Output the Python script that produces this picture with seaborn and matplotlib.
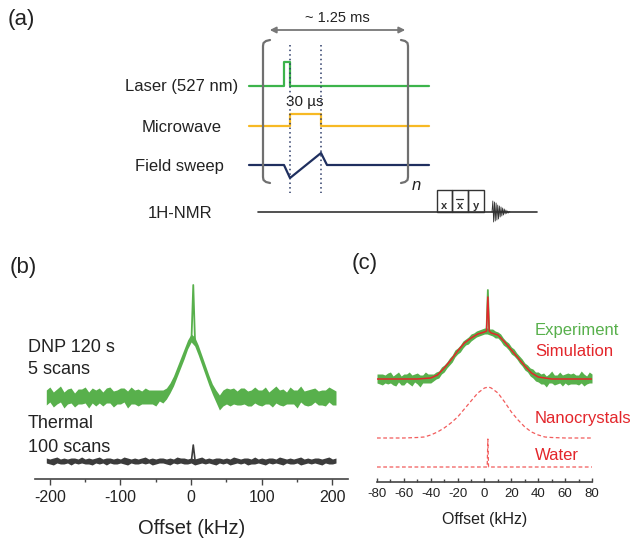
import numpy as np
import pandas as pd
import matplotlib
matplotlib.use("Agg")
import matplotlib.pyplot as plt
from matplotlib.patches import Rectangle
import seaborn as sns

# ---------------- data ----------------
# (a) pulse sequence schematic, pixel coordinates of the drawing
laser_x = [249, 284, 284, 290, 290, 429]
laser_y = [86, 86, 62, 62, 86, 86]
mw_x = [249, 290, 290, 321, 321, 429]
mw_y = [126, 126, 114, 114, 126, 126]
sweep_x = [249, 284, 290, 321, 327, 429]
sweep_y = [165, 165, 178, 153, 165, 165]
nmr_x = [258, 537]
nmr_y = [212, 212]
box_edges = [437, 452, 468, 484]
box_labels = ["x", "x", "y"]
fid_amp = [0, 11, -10, 10, -9, 9, -8, 7, -7, 6, -5, 5, -4, 4, -3, 3,
           -2, 2, -1.5, 1, -1, 0.5, 0]

# (b) 1H spectra, offset in kHz
b_x = np.arange(-205, 206, 5)
b_dnp = ([0, 1, -1, 0, 1, -1, 1, 0, -1, 0, 1, 0, -1, 1, 0, 0, -1, 1, 0, -1, 1, 0, 1, -1, 0, 1, 0, -1, 0, 1, -1, 0, 1]
         + [0, 3, 9, 16, 25, 34, 43, 52, 59, 55, 47, 37, 27, 17, 8, 1, -4, -1]
         + [0, 1, -1, 0, 1, 0, -1, 1, 0, -1, 0, 1, -1, 0, 1, 0, 0, -1, 1, 0, -1, 1, 0, 0, -1, 1, 0, -1, 0, 1, 0, -1])
b_dnp_hi = ([7, 9, 6, 8, 10, 6, 7, 9, 5, 8, 7, 10, 6, 8, 7, 9, 6, 8, 10, 7, 6, 9, 8, 7, 10, 6, 8, 7, 9, 6, 8, 7, 6]
            + [7, 6, 5, 5, 5, 5, 5, 5, 4, 5, 5, 5, 5, 5, 5, 6, 6, 8]
            + [9, 7, 10, 6, 8, 9, 7, 6, 10, 8, 7, 9, 6, 8, 10, 7, 8, 6, 9, 7, 8, 10, 6, 7, 9, 8, 6, 8, 7, 9, 8, 7])
b_dnp_lo = ([8, 6, 9, 7, 6, 10, 8, 6, 9, 7, 8, 6, 10, 7, 9, 6, 8, 7, 6, 9, 8, 7, 6, 10, 7, 8, 9, 6, 7, 8, 6, 9, 5]
            + [6, 5, 5, 5, 5, 5, 5, 4, 4, 4, 5, 5, 5, 5, 5, 6, 9, 8]
            + [7, 10, 6, 8, 9, 7, 8, 10, 6, 7, 9, 8, 6, 10, 7, 8, 9, 6, 8, 7, 10, 6, 8, 9, 7, 6, 8, 7, 9, 6, 8, 7])
b_dnp_spike_x = [0.5, 3, 5.5]
b_dnp_spike_y = [58, 112, 55]
b_th_hi = ([3, 2, 3, 4, 2, 3, 2, 3, 3, 2, 4, 2, 3, 2, 3, 4, 2, 3, 3, 2, 3, 2, 4, 3, 2, 3, 2, 3, 4, 2, 3, 2, 3]
           + [3, 2, 3, 2, 4, 3, 3, 2, 3, 2, 3, 4, 2, 3, 2, 3, 3, 2]
           + [3, 2, 4, 3, 2, 3, 3, 2, 4, 2, 3, 2, 3, 3, 2, 4, 3, 2, 3, 2, 3, 4, 2, 3, 2, 3, 3, 2, 3, 4, 2, 3])
b_th_lo = ([2, 3, 4, 2, 3, 3, 2, 4, 2, 3, 2, 3, 3, 4, 2, 3, 2, 4, 2, 3, 3, 2, 3, 4, 2, 3, 3, 2, 3, 2, 4, 3, 2]
           + [2, 3, 4, 2, 3, 2, 3, 3, 2, 4, 3, 2, 3, 2, 3, 4, 2, 3]
           + [2, 4, 3, 2, 3, 2, 4, 3, 3, 2, 3, 4, 2, 3, 2, 3, 4, 2, 3, 3, 2, 4, 3, 2, 3, 2, 3, 4, 2, 3, 3, 2])
b_th_spike_x = [0.5, 3, 5.5]
b_th_spike_y = [1, 16, 1]
b_dnp_offset = 82
b_th_offset = 18

# (c) fit of the DNP spectrum
c_x = np.arange(-80, 81, 2)
c_exp = ([0, 1, -1, 0, 1, 0, -1, 0, 1, -1, 0, 1, 0, -1, 1, 0, -1, 0, 1, 0]
         + [1, 2, 3, 5, 8, 11, 14, 17, 21, 25, 28, 31, 34, 37, 39, 41, 43, 45, 46, 47, 48,
            48, 47, 46, 45, 44, 41, 38, 35, 32, 29, 26, 23, 20, 16, 13, 10, 7, 5, 3, 2, 1]
         + [0, -1, 0, 1, 0, -1, 1, 0, 0, -1, 1, 0, -1, 0, 1, 0, -1, 1, 0])
c_exp_hi = ([5, 4, 6, 4, 5, 7, 4, 5, 6, 4, 5, 4, 7, 5, 4, 6, 5, 4, 6, 5]
            + [4, 3, 4, 3, 4, 3, 3, 4, 3, 4, 3, 3, 4, 3, 3, 4, 3, 3, 3, 3, 3,
               3, 3, 4, 3, 3, 4, 3, 3, 4, 3, 4, 3, 3, 4, 3, 4, 4, 5, 4, 5, 4]
            + [6, 4, 5, 7, 4, 5, 6, 4, 5, 7, 4, 6, 5, 4, 7, 5, 4, 6, 5])
c_exp_lo = ([4, 6, 5, 4, 6, 4, 5, 7, 4, 5, 6, 4, 5, 6, 4, 5, 7, 4, 5, 4]
            + [5, 4, 3, 4, 3, 4, 3, 3, 4, 3, 3, 4, 3, 3, 4, 3, 3, 3, 3, 3, 3,
               3, 3, 3, 4, 3, 3, 4, 3, 3, 4, 3, 3, 4, 3, 4, 3, 4, 4, 5, 5, 6]
            + [5, 7, 4, 5, 6, 4, 5, 7, 4, 5, 6, 5, 4, 6, 5, 7, 4, 5, 4])
c_exp_spike_x = [1.5, 2.5, 3.5]
c_exp_spike_y = [48, 89, 48]
c_sim_x = [-80, -60, -50, -45, -40, -35, -30, -25, -20, -15, -10, -5, 0, 1.5, 2.5, 3.5,
           5, 10, 15, 20, 25, 30, 35, 40, 45, 50, 60, 80]
c_sim_y = [0, 0, 0, 0.5, 1, 4, 11, 19, 28, 36, 41, 45, 47, 48, 82, 48,
           46, 44, 37, 29, 21, 13, 6, 2, 1, 0, 0, 0]
c_nano_x = [-80, -60, -50, -45, -40, -35, -30, -25, -20, -15, -10, -5, 0, 3,
            5, 10, 15, 20, 25, 30, 35, 40, 45, 50, 60, 80]
c_nano_y = [0, 0, 0.5, 1, 3, 6, 10, 15, 21, 29, 37, 45, 50, 51,
            50, 45, 36, 26, 18, 11, 6, 3, 1, 0.5, 0, 0]
c_water_x = [-80, 2, 2.5, 3, 80]
c_water_y = [0, 0, 28, 0, 0]
c_exp_offset = 103
c_nano_offset = 44
c_water_offset = 15

for arr in (b_dnp, b_dnp_hi, b_dnp_lo, b_th_hi, b_th_lo):
    assert len(arr) == len(b_x), len(arr)
for arr in (c_exp, c_exp_hi, c_exp_lo):
    assert len(arr) == len(c_x), len(arr)

# ---------------- style ----------------
sns.set_theme(style="white")
plt.rcParams["font.family"] = ["Liberation Sans", "DejaVu Sans"]
plt.rcParams["axes.unicode_minus"] = False

GREEN = "#58b04c"
RED = "#e3262b"
LRED = "#f25c5c"
GREY = "#3c3c3c"
TXT = "#222222"

W, H = 632, 539
fig = plt.figure(figsize=(W / 100, H / 100), dpi=100)


def px_axes(l, t, r, b):
    return fig.add_axes([l / W, 1 - b / H, (r - l) / W, (b - t) / H])


def ftext(x, y, s, **kw):
    kw.setdefault("va", "center")
    kw.setdefault("color", TXT)
    fig.text(x / W, 1 - y / H, s, **kw)


# ---------------- panel (a) ----------------
ax = px_axes(0, 0, W, 250)
ax.set_xlim(0, W)
ax.set_ylim(250, 0)
ax.axis("off")

ax.plot(laser_x, laser_y, color="#3cb44b", lw=1.6)
ax.plot(mw_x, mw_y, color="#f7b924", lw=1.6)
ax.plot(sweep_x, sweep_y, color="#1f2f5f", lw=1.6)
for xd in (290, 321):
    ax.plot([xd, xd], [45, 193], color="#2b3a67", lw=1.1, ls=(0, (1, 2)))

bk = "#707070"
ax.plot([270, 266, 263.5, 263, 263, 263.5, 266, 270],
        [40, 41, 43, 46, 177, 180, 182, 183], color=bk, lw=1.6)
ax.plot([401, 405, 407.5, 408, 408, 407.5, 405, 401],
        [40, 41, 43, 46, 177, 180, 182, 183], color=bk, lw=1.6)
ax.annotate("", xy=(267, 30), xytext=(408, 30),
            arrowprops=dict(arrowstyle="<|-|>", color="#777777", lw=1.3, mutation_scale=9))

ax.plot(nmr_x, nmr_y, color="#333333", lw=1.2)
for i in range(3):
    x0, x1 = box_edges[i], box_edges[i + 1]
    ax.add_patch(Rectangle((x0, 190), x1 - x0, 22, fill=False, ec="#333333", lw=1.0))
    ax.text((x0 + x1) / 2, 206, box_labels[i], ha="center", va="center",
            fontsize=8, fontweight="bold", color="#333333")
ax.plot([456, 463], [199, 199], color="#333333", lw=0.9)
fid_x = np.linspace(492, 510, len(fid_amp))
ax.plot(fid_x, 212 - np.array(fid_amp), color="#333333", lw=0.6)

ftext(8, 19, "(a)", fontsize=16)
ftext(337, 18, "~ 1.25 ms", fontsize=10.5, ha="center")
ftext(238, 87, "Laser (527 nm)", fontsize=12, ha="right")
ftext(305, 102, "30 µs", fontsize=11, ha="center")
ftext(222, 127, "Microwave", fontsize=12, ha="right")
ftext(224, 166, "Field sweep", fontsize=12, ha="right")
ftext(180, 213, "1H-NMR", fontsize=12, ha="center")
ftext(412, 185, "n", fontsize=12, style="italic")

# ---------------- panel (b) ----------------
axb = px_axes(35, 275, 348, 479)
dnp = np.array(b_dnp) + b_dnp_offset
axb.fill_between(b_x, dnp - np.array(b_dnp_lo), dnp + np.array(b_dnp_hi),
                 color=GREEN, lw=0)
sns.lineplot(x=b_dnp_spike_x, y=np.array(b_dnp_spike_y) + b_dnp_offset, ax=axb,
             color=GREEN, lw=1.3, estimator=None, sort=False)
axb.fill_between(b_x, b_th_offset - np.array(b_th_lo), b_th_offset + np.array(b_th_hi),
                 color=GREY, lw=0)
sns.lineplot(x=b_th_spike_x, y=np.array(b_th_spike_y) + b_th_offset, ax=axb,
             color=GREY, lw=1.2, estimator=None, sort=False)
axb.set_xlim(-221, 222)
axb.set_ylim(0, 204)
axb.set_xticks([-200, -100, 0, 100, 200])
axb.set_xticks([-150, -50, 50, 150], minor=True)
axb.set_yticks([])
for s in ("left", "right", "top"):
    axb.spines[s].set_visible(False)
axb.spines["bottom"].set_color("#444444")
axb.spines["bottom"].set_linewidth(1.2)
axb.tick_params(axis="x", which="major", direction="out", length=4, width=1,
                color="#444444", labelsize=11.5, labelcolor=TXT, pad=4, bottom=True)
axb.tick_params(axis="x", which="minor", direction="out", length=2.5, width=1,
                color="#444444", bottom=True)
axb.set_xlabel("Offset (kHz)", fontsize=14.5, color=TXT, labelpad=10)

ftext(10, 268, "(b)", fontsize=16)
ftext(28, 348, "DNP 120 s", fontsize=13)
ftext(28, 370, "5 scans", fontsize=13)
ftext(28, 423, "Thermal", fontsize=13)
ftext(28, 447, "100 scans", fontsize=13)

# ---------------- panel (c) ----------------
axc = px_axes(377, 275, 592, 482)
exp = np.array(c_exp) + c_exp_offset
axc.fill_between(c_x, exp - np.array(c_exp_lo), exp + np.array(c_exp_hi),
                 color=GREEN, lw=0)
sns.lineplot(x=c_exp_spike_x, y=np.array(c_exp_spike_y) + c_exp_offset, ax=axc,
             color=GREEN, lw=1.3, estimator=None, sort=False)
sns.lineplot(x=c_sim_x, y=np.array(c_sim_y) + c_exp_offset, ax=axc,
             color=RED, lw=1.1, estimator=None, sort=False)
sns.lineplot(x=c_nano_x, y=np.array(c_nano_y) + c_nano_offset, ax=axc,
             color=LRED, lw=0.9, estimator=None, sort=False, dashes=False,
             linestyle=(0, (3, 2)))
sns.lineplot(x=c_water_x, y=np.array(c_water_y) + c_water_offset, ax=axc,
             color=LRED, lw=0.9, estimator=None, sort=False, dashes=False,
             linestyle=(0, (3, 2)))
axc.set_xlim(-80, 80)
axc.set_ylim(0, 207)
axc.set_xticks(np.arange(-80, 81, 20))
axc.set_xticks(np.arange(-70, 80, 20), minor=True)
axc.set_yticks([])
for s in ("left", "right", "top"):
    axc.spines[s].set_visible(False)
axc.spines["bottom"].set_color("#444444")
axc.spines["bottom"].set_linewidth(1.2)
axc.tick_params(axis="x", which="major", direction="in", length=3, width=1,
                color="#444444", labelsize=9.5, labelcolor=TXT, pad=4, bottom=True)
axc.tick_params(axis="x", which="minor", direction="in", length=2, width=1,
                color="#444444", bottom=True)
axc.set_xlabel("Offset (kHz)", fontsize=11.5, color=TXT, labelpad=9)

ftext(352, 263, "(c)", fontsize=16)
ftext(535, 330, "Experiment", fontsize=12, color=GREEN)
ftext(535, 351, "Simulation", fontsize=12, color=RED)
ftext(535, 418, "Nanocrystals", fontsize=12, color=RED)
ftext(535, 456, "Water", fontsize=12, color=RED)

fig.savefig("out.png", dpi=100)
